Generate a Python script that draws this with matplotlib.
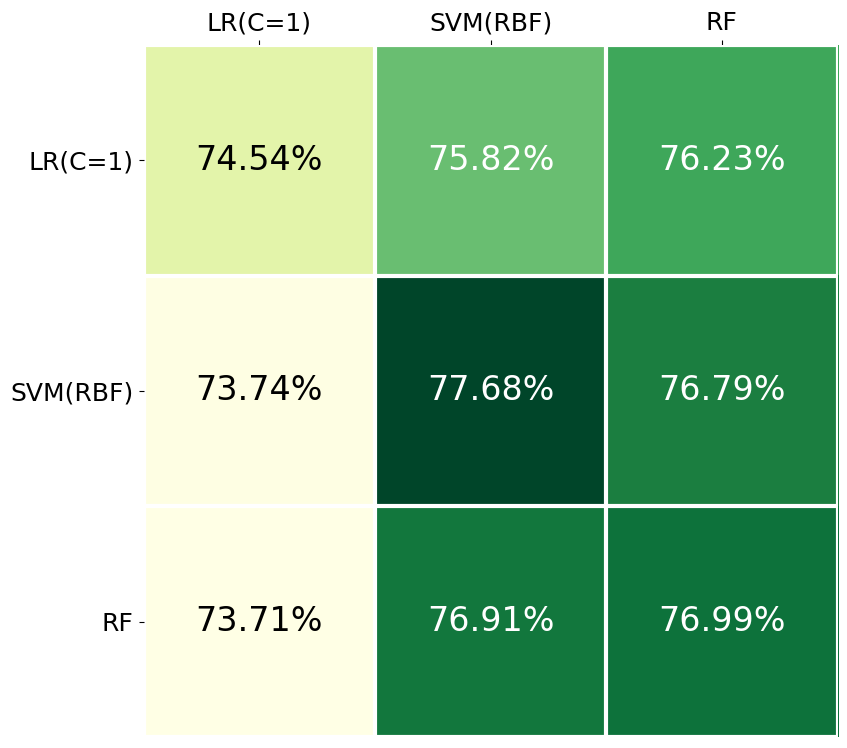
import numpy as np
import matplotlib
matplotlib.use("Agg")
import matplotlib.pyplot as plt

# modeller och noggrannhet (%)
models = ["LR(C=1)", "SVM(RBF)", "RF"]
acc_row_lr = [74.54, 75.82, 76.23]
acc_row_svm = [73.74, 77.68, 76.79]
acc_row_rf = [73.71, 76.91, 76.99]

data = np.array([acc_row_lr, acc_row_svm, acc_row_rf])

fig = plt.figure(figsize=(8.47, 7.48), dpi=100)
ax = fig.add_axes([143.5 / 847, 1 - 737 / 748, 694 / 847, 692 / 748])

im = ax.imshow(data, cmap="YlGn", vmin=data.min(), vmax=data.max(), aspect="auto")

ax.set_xticks(range(len(models)))
ax.set_yticks(range(len(models)))
ax.set_xticklabels(models, fontsize=18)
ax.set_yticklabels(models, fontsize=18)
ax.xaxis.tick_top()

# vita linjer mellan rutorna
ax.set_xticks(np.arange(-0.5, 3, 1), minor=True)
ax.set_yticks(np.arange(-0.5, 3, 1), minor=True)
ax.grid(which="minor", color="white", linewidth=3)
ax.tick_params(which="minor", length=0)
for s in ax.spines.values():
    s.set_visible(False)

mid = (data.min() + data.max()) / 2
for i in range(data.shape[0]):
    for j in range(data.shape[1]):
        color = "white" if data[i, j] > mid - 0.6 else "black"
        ax.text(j, i, f"{data[i, j]:.2f}%", ha="center", va="center", fontsize=24, color=color)

fig.savefig("out.png", dpi=100)
